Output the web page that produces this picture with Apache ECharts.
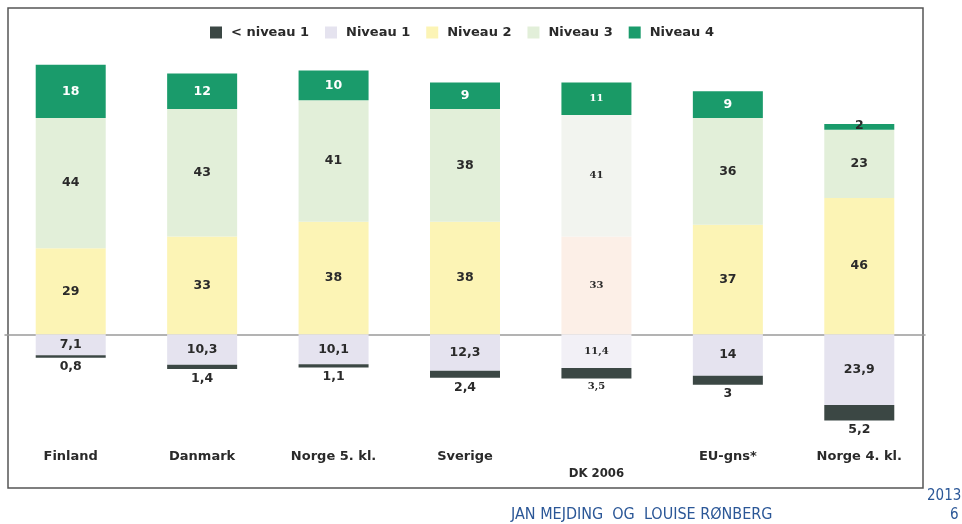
<!DOCTYPE html>
<html>
<head>
<meta charset="utf-8">
<script src="https://cdn.jsdelivr.net/npm/echarts@6/dist/echarts.min.js"></script>
<style>html,body{margin:0;padding:0;background:#fff;}#c{width:962px;height:524px;}</style>
</head>
<body>
<div id="c"></div>
<script>
var categories = ['Finland', 'Danmark', 'Norge 5. kl.', 'Sverige', 'DK 2006', 'EU-gns*', 'Norge 4. kl.'];
var belowLevel1 = [0.8, 1.4, 1.1, 2.4, 3.5, 3, 5.2];
var level1 = [7.1, 10.3, 10.1, 12.3, 11.4, 14, 23.9];
var level2 = [29, 33, 38, 38, 33, 37, 46];
var level3 = [44, 43, 41, 38, 41, 36, 23];
var level4 = [18, 12, 10, 9, 11, 9, 2];
var seriesNames = ['< niveau 1', 'Niveau 1', 'Niveau 2', 'Niveau 3', 'Niveau 4'];

var colors = {
  '< niveau 1': '#3b4744',
  'Niveau 1': '#e5e3ef',
  'Niveau 2': '#fcf4b5',
  'Niveau 3': '#e2efd9',
  'Niveau 4': '#1a9b6b'
};
var dkColors = {
  '< niveau 1': '#3b4744',
  'Niveau 1': '#f2f0f6',
  'Niveau 2': '#fcefe7',
  'Niveau 3': '#f2f4ef',
  'Niveau 4': '#1a9a66'
};
var dkIndex = categories.indexOf('DK 2006');
var FONT = 'DejaVu Sans, Verdana, sans-serif';

function fmt(p) {
  return String(Math.abs(p.value)).replace('.', ',');
}

function build(name, values, sign, labelCfg) {
  return {
    name: name,
    type: 'bar',
    stack: 'total',
    barWidth: 70,
    xAxisIndex: 0,
    itemStyle: { color: colors[name] },
    label: Object.assign({
      show: true,
      formatter: fmt,
      fontSize: 12.5,
      fontWeight: 'bold',
      fontFamily: FONT,
      color: '#2a2a2a'
    }, labelCfg || {}),
    data: values.map(function (v, i) {
      var d = { value: sign * v };
      if (i === dkIndex) {
        d.itemStyle = { color: dkColors[name] };
        d.label = { fontSize: 10, fontFamily: 'DejaVu Serif, serif', fontWeight: 'bold' };
      }
      if (name === 'Niveau 4' && v < 4) {
        d.label = { color: '#2a2a2a', offset: [0, -1] };
      }
      return d;
    })
  };
}

var chart = echarts.init(document.getElementById('c'));
chart.setOption({
  animation: false,
  backgroundColor: '#ffffff',
  legend: {
    data: seriesNames,
    left: 205,
    top: 21,
    itemWidth: 12,
    itemHeight: 12,
    itemGap: 16,
    icon: 'rect',
    textStyle: { fontSize: 13, fontWeight: 'bold', color: '#2a2a2a', fontFamily: FONT, padding: [0, 0, 0, 4] }
  },
  grid: { left: 5, right: 37, top: 38, bottom: 86 },
  xAxis: [{
    type: 'category',
    data: categories,
    axisLine: { show: true, onZero: true, lineStyle: { color: '#9a9a9a', width: 1.5 } },
    axisTick: { show: false },
    axisLabel: { show: false }
  }, {
    type: 'category',
    data: categories,
    position: 'bottom',
    axisLine: { show: false, onZero: false },
    axisTick: { show: false },
    axisLabel: {
      interval: 0,
      margin: 10,
      fontSize: 13,
      lineHeight: 17,
      fontWeight: 'bold',
      color: '#2a2a2a',
      fontFamily: FONT,
      formatter: function (v) {
        return v === 'DK 2006' ? '\n{dk|' + v + '}' : v;
      },
      rich: { dk: { fontSize: 13, fontWeight: 'bold', fontFamily: 'DejaVu Sans Condensed, sans-serif', color: '#2a2a2a', lineHeight: 17 } }
    }
  }],
  yAxis: {
    type: 'value',
    min: -35,
    max: 100,
    show: false,
    splitLine: { show: false }
  },
  series: [
    build('Niveau 1', level1, -1),
    build('< niveau 1', belowLevel1, -1, { position: 'bottom', distance: 3 }),
    build('Niveau 2', level2, 1),
    build('Niveau 3', level3, 1),
    build('Niveau 4', level4, 1, { color: '#ffffff' })
  ],
  graphic: [
    { type: 'rect', shape: { x: 8, y: 8, width: 915, height: 480 }, style: { fill: 'none', stroke: '#555', lineWidth: 1.5 }, silent: true, z: -1 },
    { type: 'text', left: 927, top: 489, style: { text: '2013', fontSize: 15, fill: '#2b5797', fontFamily: 'DejaVu Sans Condensed, sans-serif' } },
    { type: 'text', left: 950, top: 508, style: { text: '6', fontSize: 15, fill: '#2b5797', fontFamily: 'DejaVu Sans Condensed, sans-serif' } },
    { type: 'text', left: 511, top: 507, style: { text: 'JAN MEJDING  OG  LOUISE RØNBERG', fontSize: 16, fill: '#2b5797', fontFamily: 'DejaVu Sans Condensed, sans-serif' } }
  ]
});
</script>
</body>
</html>
